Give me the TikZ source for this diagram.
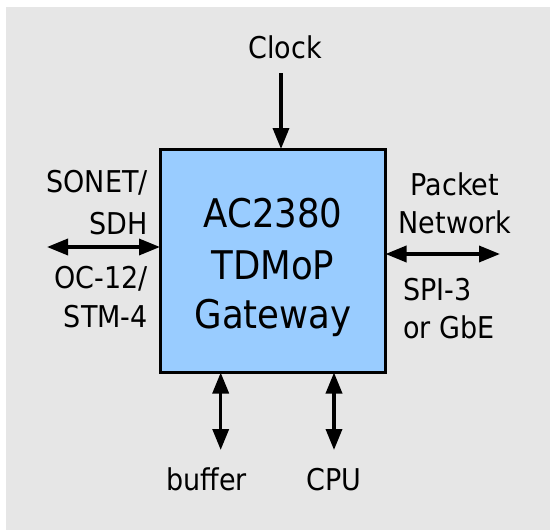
\documentclass[tikz,border=0pt]{standalone}
\usepackage{fontspec}
\setmainfont{DejaVu Sans Condensed}
\usetikzlibrary{arrows.meta}
\definecolor{bggrey}{HTML}{E6E6E6}
\definecolor{boxblue}{HTML}{99CCFF}
\begin{document}
\begin{tikzpicture}[x=1pt,y=-1pt,
  lbl/.style={inner sep=0pt, font=\fontsize{30}{40}\selectfont},
  boxtxt/.style={inner sep=0pt, font=\fontsize{39.5}{51}\selectfont},
  conn/.style={line width=3.5pt, -{Triangle[length=21pt,width=16pt]}},
  biconn/.style={line width=3.5pt, {Triangle[length=21pt,width=16pt]}-{Triangle[length=21pt,width=16pt]}}
]
\useasboundingbox (0,0) rectangle (550,530);
\fill[bggrey] (6,7) rectangle (550,530);
\node[draw, line width=3pt, fill=boxblue, minimum width=225.5pt, minimum height=223.5pt, inner sep=0pt, outer sep=0pt] (box) at (272.75,260.75) {};
% box text
\node[boxtxt, anchor=base] (t1) at (273,227) {AC2380};
\node[boxtxt, anchor=base] (t2) at (273,279) {TDMoP};
\node[boxtxt, anchor=base] (t3) at (273,328) {Gateway};
% labels
\node[lbl, anchor=base] (clock) at (285,58) {Clock};
\node[lbl, anchor=base east] (sonet) at (148,192) {SONET/};
\node[lbl, anchor=base east] (sdh) at (148,234) {SDH};
\node[lbl, anchor=base east] (oc) at (148,288) {OC-12/};
\node[lbl, anchor=base east] (stm) at (148,327) {STM-4};
\node[lbl, anchor=base] (packet) at (455,195) {Packet};
\node[lbl, anchor=base] (network) at (455,233) {Network};
\node[lbl, anchor=base west] (spi) at (403,300) {SPI-3};
\node[lbl, anchor=base west] (gbe) at (403,338) {or GbE};
\node[lbl, anchor=base] (buffer) at (206.5,490) {buffer};
\node[lbl, anchor=base] (cpu) at (334,490) {CPU};
% connector ends
\coordinate (ct) at (281,73);
\coordinate (lt) at (47,247);
\coordinate (rt) at (500,254);
\coordinate (bb) at (220.7,450);
\coordinate (cb) at (334,450);
% connectors
\draw[conn] (ct) -- (ct |- box.north);
\draw[biconn] (lt) -- (lt -| box.west);
\draw[biconn] (rt -| box.east) -- (rt);
\draw[biconn] (bb |- box.south) -- (bb);
\draw[biconn] (cb |- box.south) -- (cb);
\end{tikzpicture}
\end{document}
